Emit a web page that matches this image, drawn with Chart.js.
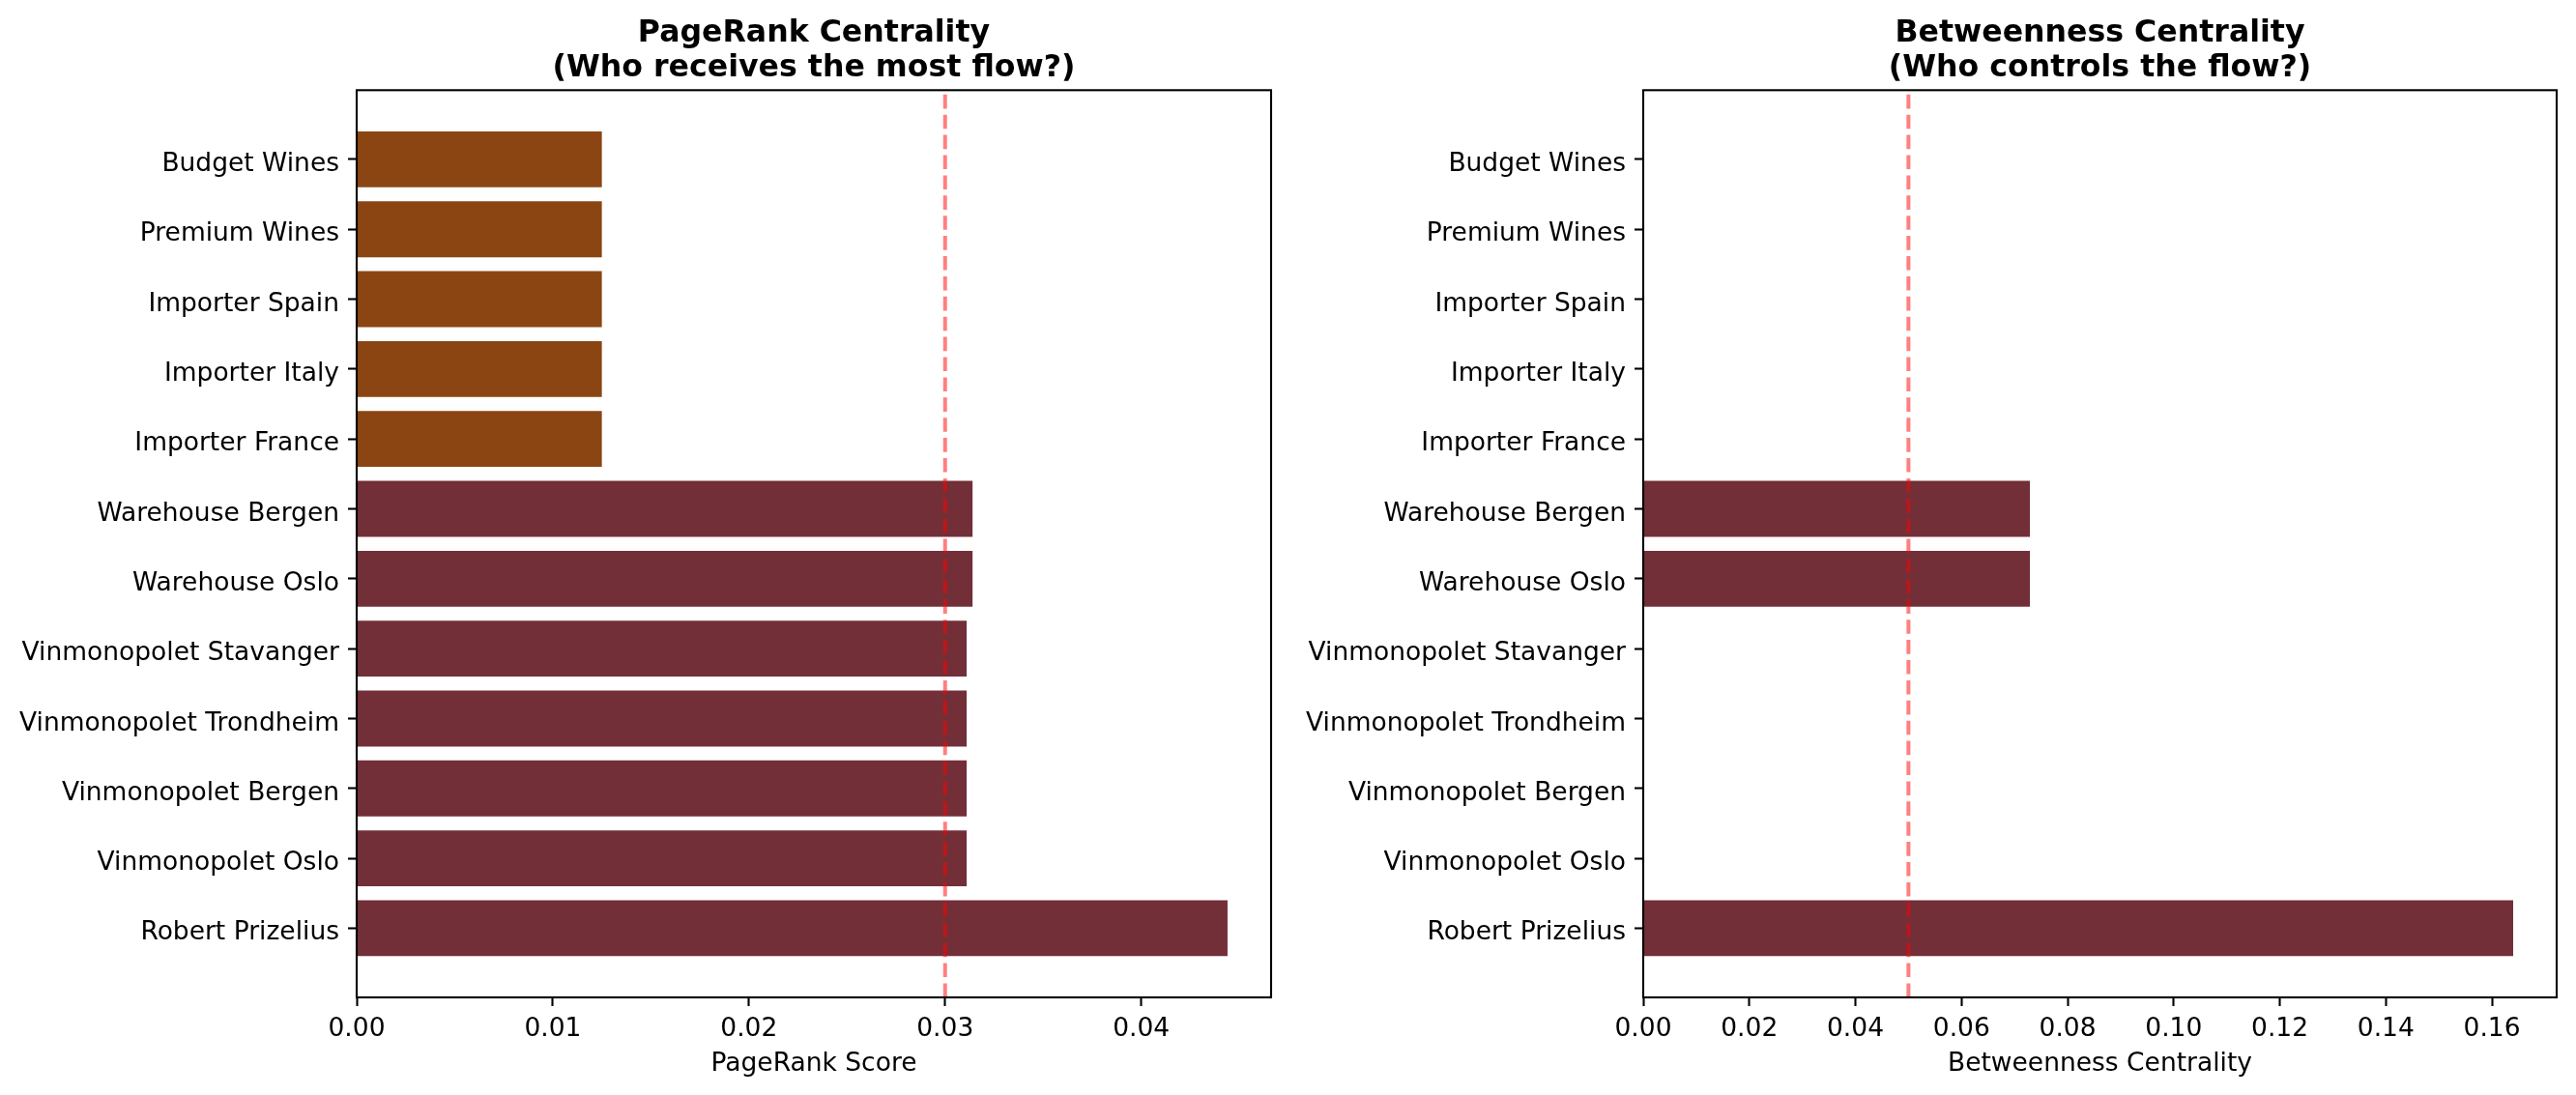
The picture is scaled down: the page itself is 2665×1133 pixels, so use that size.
<!DOCTYPE html>
<html>
<head>
<meta charset="utf-8">
<script src="https://cdn.jsdelivr.net/npm/chart.js@4.4.0/dist/chart.umd.min.js"></script>
<style>
html, body { margin: 0; padding: 0; background: #fff; }
#wrap { position: relative; width: 2665px; height: 1133px; }
.box { position: absolute; top: 0; height: 1133px; }
</style>
</head>
<body>
<div id="wrap">
  <div class="box" style="left:0; width:1332px;"><canvas id="pagerankChart"></canvas></div>
  <div class="box" style="left:1332px; width:1333px;"><canvas id="betweennessChart"></canvas></div>
</div>
<script>
// nodes from bottom to top
var nodes = ["Robert Prizelius", "Vinmonopolet Oslo", "Vinmonopolet Bergen", "Vinmonopolet Trondheim",
             "Vinmonopolet Stavanger", "Warehouse Oslo", "Warehouse Bergen", "Importer France",
             "Importer Italy", "Importer Spain", "Premium Wines", "Budget Wines"];
var pagerank = [0.0444, 0.0311, 0.0311, 0.0311, 0.0311, 0.0314, 0.0314, 0.0125, 0.0125, 0.0125, 0.0125, 0.0125];
var betweenness = [0.164, 0, 0, 0, 0, 0.0729, 0.0729, 0, 0, 0, 0, 0];
var pagerankTicks = [0, 0.01, 0.02, 0.03, 0.04];
var betweennessTicks = [0, 0.02, 0.04, 0.06, 0.08, 0.10, 0.12, 0.14, 0.16];
var pagerankThreshold = 0.03;
var betweennessThreshold = 0.05;

// colores: distribucion (vino) / proveedores (marron)
var nodeColors = ["#722F37", "#722F37", "#722F37", "#722F37", "#722F37", "#722F37", "#722F37",
                  "#8B4513", "#8B4513", "#8B4513", "#8B4513", "#8B4513"];

Chart.defaults.font.family = "'DejaVu Sans', sans-serif";
Chart.defaults.color = "#000";

// linea de referencia discontinua + marco del eje
var refLinePlugin = {
    id: 'refLine',
    afterDatasetsDraw: function(chart, args, opts) {
        var ctx = chart.ctx, a = chart.chartArea;
        var x = chart.scales.x.getPixelForValue(opts.value);
        ctx.save();
        ctx.strokeStyle = 'rgba(255, 0, 0, 0.5)';
        ctx.lineWidth = 4;
        ctx.setLineDash([14.6, 6.3]);
        ctx.beginPath();
        ctx.moveTo(x, a.bottom);
        ctx.lineTo(x, a.top);
        ctx.stroke();
        ctx.setLineDash([]);
        ctx.strokeStyle = '#000';
        ctx.lineWidth = 2.1;
        ctx.strokeRect(a.left, a.top, a.right - a.left, a.bottom - a.top);
        ctx.restore();
    }
};

function makeChart(id, values, ticks, threshold, title, xTitle, yWidth, padRight) {
    var xMax = Math.max.apply(null, values) * 1.05;
    var tickGrid = {
        drawOnChartArea: false,
        drawTicks: true,
        offset: false,
        tickLength: 9,
        tickWidth: 2.1,
        tickColor: '#000'
    };
    return new Chart(document.getElementById(id).getContext('2d'), {
        type: 'bar',
        data: {
            datasets: [{
                data: nodes.map(function(n, i) { return { x: values[i], y: i }; }),
                backgroundColor: nodeColors,
                borderWidth: 0,
                barPercentage: 0.8,
                categoryPercentage: 1.0
            }]
        },
        options: {
            indexAxis: 'y',
            responsive: true,
            maintainAspectRatio: false,
            animation: false,
            devicePixelRatio: 1,
            layout: { padding: { left: 0, right: padRight, top: 0, bottom: 0 } },
            plugins: {
                legend: { display: false },
                tooltip: { enabled: false },
                title: {
                    display: true,
                    text: title,
                    fullSize: false,
                    color: '#000',
                    font: { size: 31.6, weight: 'bold', lineHeight: 1.13 },
                    padding: { top: 17.2, bottom: 4.7 }
                },
                refLine: { value: threshold }
            },
            scales: {
                x: {
                    type: 'linear',
                    min: 0,
                    max: xMax,
                    afterBuildTicks: function(s) { s.ticks = ticks.map(function(v) { return { value: v }; }); },
                    afterFit: function(s) { s.height = 101; },
                    ticks: {
                        callback: function(v) { return v.toFixed(2); },
                        font: { size: 26.5 },
                        color: '#000',
                        padding: 8.5,
                        maxRotation: 0,
                        autoSkip: false
                    },
                    grid: tickGrid,
                    border: { display: false },
                    title: {
                        display: true,
                        text: xTitle,
                        color: '#000',
                        font: { size: 26.5 },
                        padding: { top: 0, bottom: 15.5 }
                    }
                },
                y: {
                    type: 'linear',
                    offset: false,
                    min: -0.99,
                    max: 11.99,
                    afterBuildTicks: function(s) { s.ticks = nodes.map(function(n, i) { return { value: i }; }); },
                    afterFit: function(s) { s.width = yWidth; },
                    ticks: {
                        callback: function(v) { return nodes[v]; },
                        font: { size: 26.5 },
                        color: '#000',
                        padding: 9,
                        labelOffset: 5.2,
                        autoSkip: false
                    },
                    grid: tickGrid,
                    border: { display: false }
                }
            }
        },
        plugins: [refLinePlugin]
    });
}

document.addEventListener("DOMContentLoaded", function() {
    makeChart('pagerankChart', pagerank, pagerankTicks, pagerankThreshold,
              ['PageRank Centrality', '(Who receives the most flow?)'], 'PageRank Score', 369, 17);
    makeChart('betweennessChart', betweenness, betweennessTicks, betweennessThreshold,
              ['Betweenness Centrality', '(Who controls the flow?)'], 'Betweenness Centrality', 368, 20);
});
</script>
</body>
</html>
